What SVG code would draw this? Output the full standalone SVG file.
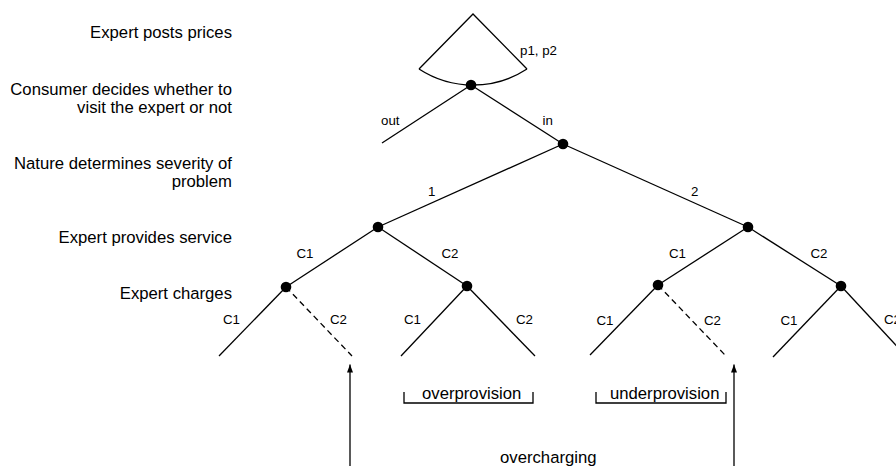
<svg xmlns="http://www.w3.org/2000/svg" width="896" height="466" viewBox="0 0 896 466">
<style>
  .lbl { font-family: "Liberation Sans", Arial, sans-serif; font-size: 16.7px; fill: #000; }
  .sm { font-family: "Liberation Sans", Arial, sans-serif; font-size: 13.3px; fill: #000; }
  .e { stroke: #000; stroke-width: 1.3; fill: none; }
  .d { stroke: #000; stroke-width: 1.3; fill: none; stroke-dasharray: 6 4; }
  .n { fill: #000; }
</style>
<defs>
  <marker id="ah" markerWidth="10" markerHeight="10" refX="8" refY="3" orient="auto" markerUnits="userSpaceOnUse">
    <path d="M0,0 L8,3 L0,6 Z" fill="#000"/>
  </marker>
</defs>
<rect width="896" height="466" fill="#fff"/>

<g id="stage-labels" class="lbl" text-anchor="end">
  <text x="232" y="38">Expert posts prices</text>
  <text x="232" y="95">Consumer decides whether to</text>
  <text x="232" y="113">visit the expert or not</text>
  <text x="232" y="169">Nature determines severity of</text>
  <text x="232" y="187">problem</text>
  <text x="232" y="243">Expert provides service</text>
  <text x="232" y="299">Expert charges</text>
</g>

<g id="connectors">
  <path class="e" d="M419,69 L473,14 L527,69"/>
  <path class="e" d="M419,69 A99,99 0 0 0 527,69"/>
  <line class="e" x1="471" y1="85" x2="382" y2="143"/>
  <line class="e" x1="471" y1="85" x2="563" y2="144"/>
  <line class="e" x1="563" y1="144" x2="378" y2="227"/>
  <line class="e" x1="563" y1="144" x2="748" y2="227"/>
  <line class="e" x1="378" y1="227" x2="286" y2="287"/>
  <line class="e" x1="378" y1="227" x2="467" y2="286"/>
  <line class="e" x1="748" y1="227" x2="658" y2="285"/>
  <line class="e" x1="748" y1="227" x2="841" y2="286"/>
  <line class="e" x1="286" y1="287" x2="219" y2="356"/>
  <line class="d" x1="286" y1="287" x2="352" y2="356"/>
  <line class="e" x1="467" y1="286" x2="401" y2="356"/>
  <line class="e" x1="467" y1="286" x2="535" y2="356"/>
  <line class="e" x1="658" y1="285" x2="590" y2="355"/>
  <line class="d" x1="658" y1="285" x2="725" y2="355"/>
  <line class="e" x1="841" y1="286" x2="773" y2="357"/>
  <line class="e" x1="841" y1="286" x2="906" y2="356"/>
  <line class="e" x1="350" y1="466" x2="350" y2="364.5" marker-end="url(#ah)"/>
  <line class="e" x1="734" y1="466" x2="734" y2="364.5" marker-end="url(#ah)"/>
  <path class="e" d="M404,392 V403 H533 V392"/>
  <path class="e" d="M596,392 V403 H726 V392"/>
</g>

<g id="edge-labels" class="sm">
  <text x="520" y="55">p1, p2</text>
  <text x="381" y="125">out</text>
  <text x="542.5" y="125">in</text>
  <text x="428" y="196">1</text>
  <text x="691" y="196">2</text>
  <text x="296.5" y="258">C1</text>
  <text x="441.5" y="258">C2</text>
  <text x="669" y="258">C1</text>
  <text x="810.5" y="258">C2</text>
  <text x="223" y="324">C1</text>
  <text x="330" y="324">C2</text>
  <text x="404" y="324">C1</text>
  <text x="516" y="324">C2</text>
  <text x="596.5" y="325">C1</text>
  <text x="704" y="325">C2</text>
  <text x="780.5" y="325">C1</text>
  <text x="884" y="324">C2</text>
</g>

<g id="node-price"><circle class="n" cx="471" cy="85" r="5.3"/></g>
<g id="node-nature"><circle class="n" cx="563" cy="144" r="5.3"/></g>
<g id="node-service-1"><circle class="n" cx="378" cy="227" r="5.3"/></g>
<g id="node-service-2"><circle class="n" cx="748" cy="227" r="5.3"/></g>
<g id="node-charge-1-1"><circle class="n" cx="286" cy="287" r="5.3"/></g>
<g id="node-charge-1-2"><circle class="n" cx="467" cy="286" r="5.3"/></g>
<g id="node-charge-2-1"><circle class="n" cx="658" cy="285" r="5.3"/></g>
<g id="node-charge-2-2"><circle class="n" cx="841" cy="286" r="5.3"/></g>

<g id="annotations" class="lbl" text-anchor="middle">
  <text x="471.7" y="399">overprovision</text>
  <text x="664.7" y="399">underprovision</text>
  <text x="548.3" y="463">overcharging</text>
</g>
</svg>
